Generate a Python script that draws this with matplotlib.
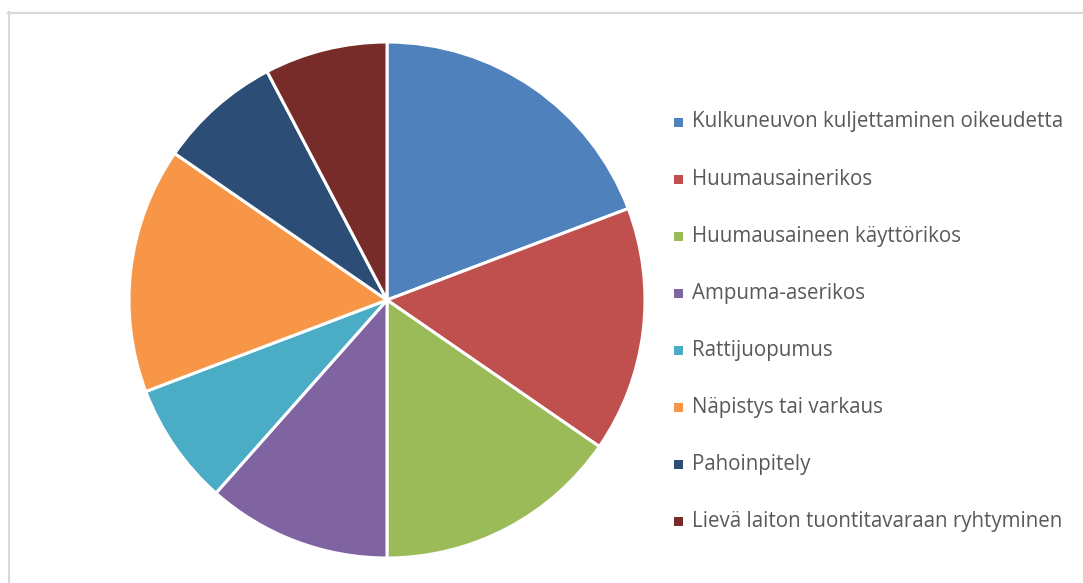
import matplotlib.pyplot as plt
from matplotlib.patches import Rectangle
from matplotlib.lines import Line2D

labels = [
    'Kulkuneuvon kuljettaminen oikeudetta',
    'Huumausainerikos',
    'Huumausaineen käyttörikos',
    'Ampuma-aserikos',
    'Rattijuopumus',
    'Näpistys tai varkaus',
    'Pahoinpitely',
    'Lievä laiton tuontitavaraan ryhtyminen',
]
values = [5, 4, 4, 3, 2, 4, 2, 2]
colors = ['#4F81BD', '#C0504D', '#9BBB59', '#8064A2',
          '#4BACC6', '#F79646', '#2C4D75', '#772C2A']

W, H = 1083, 583
fig = plt.figure(figsize=(W / 100, H / 100), dpi=100)

# chart frame (only left and top edges visible)
fig.add_artist(Line2D([8.5 / W, 8.5 / W], [0, 1 - 12 / H], color='#D9D9D9', lw=1.5))
fig.add_artist(Line2D([8 / W, 1], [1 - 12.5 / H, 1 - 12.5 / H], color='#D9D9D9', lw=1.5))

cx, cy, r = 387, 300, 258
ax = fig.add_axes([(cx - r) / W, (H - cy - r) / H, 2 * r / W, 2 * r / H])
ax.pie(values, colors=colors, startangle=90, counterclock=False,
       wedgeprops=dict(edgecolor='white', linewidth=2.2))
ax.set_xlim(-1, 1)
ax.set_ylim(-1, 1)
ax.set_aspect('equal')
ax.axis('off')

# legend
y0, dy = 122, 57.1
for i, (lab, c) in enumerate(zip(labels, colors)):
    y = y0 + i * dy
    fig.add_artist(Rectangle((674 / W, 1 - (y + 4.5) / H), 9 / W, 9 / H,
                             transform=fig.transFigure, color=c, lw=0))
    fig.text(692 / W, 1 - y / H, lab, fontsize=14.8, color='#595959',
             va='center', ha='left', family='Open Sans')

fig.savefig('out.png', dpi=100)
